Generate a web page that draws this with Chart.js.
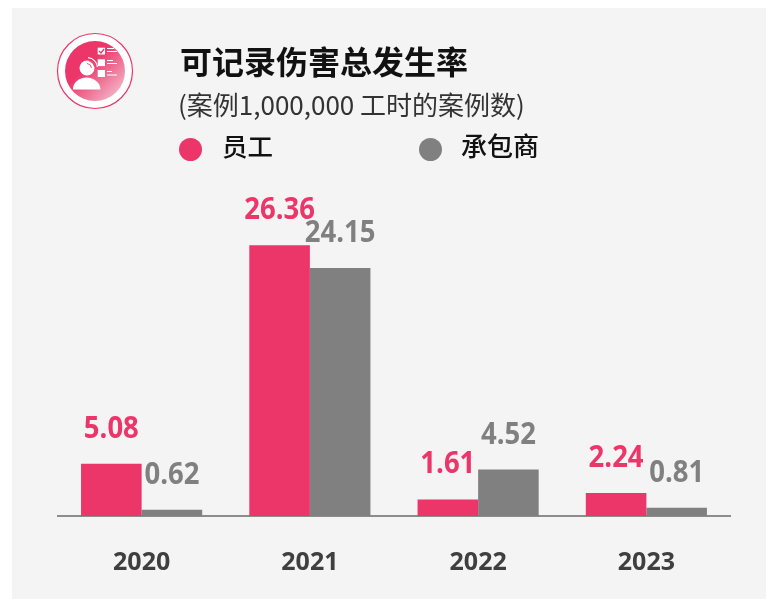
<!DOCTYPE html>
<html><head><meta charset="utf-8">
<script src="https://cdn.jsdelivr.net/npm/chart.js@4"></script>
<style>
html,body{margin:0;padding:0;background:#fff;width:766px;height:599px;overflow:hidden}
#panel{position:absolute;left:12px;top:8px;width:754px;height:591px;background:#f4f4f4}
#c{position:absolute;left:0;top:0}
.t{position:absolute;white-space:nowrap;font-family:"Noto Sans CJK SC","Noto Sans",sans-serif;color:#111}
.dot{position:absolute;border-radius:50%;width:23px;height:23px}
</style></head><body>
<div id="panel"></div>
<canvas id="c" width="766" height="599"></canvas>
<svg style="position:absolute;left:56px;top:32px" width="78" height="78" viewBox="0 0 78 78">
<defs><linearGradient id="g" x1="0.25" y1="0.25" x2="0.95" y2="0.95"><stop offset="0.2" stop-color="#ec3569"/><stop offset="1" stop-color="#f3c3d2"/></linearGradient></defs>
<circle cx="39" cy="39" r="37.5" fill="#fff" stroke="#ec3569" stroke-width="1.2"/>
<circle cx="39" cy="39" r="30" fill="url(#g)"/>
<g fill="#fff">
<path d="M17 57.5 C17 50 23 46 30.5 45.5 C38 46 44 50 44.5 57.5Z"/>
<circle cx="31" cy="36" r="7.5"/>
<path d="M32 25 a11 11 0 0 1 10 10 h-1.2 a9.5 9.5 0 0 0 -8.8 -8.8z"/>
<rect x="41.7" y="15.7" width="7.3" height="6.8"/><rect x="41.7" y="27.3" width="7.3" height="6.8"/><rect x="41.7" y="38" width="7.3" height="7"/>
<rect x="51" y="16" width="7" height="1"/><rect x="51" y="19" width="10" height="1"/>
<rect x="51" y="28" width="6" height="1"/><rect x="51" y="31" width="10" height="1"/>
<rect x="51" y="39" width="5" height="1"/><rect x="51" y="42.5" width="10" height="1"/>
</g>
<path d="M43 19 l2 2 l3 -4" fill="none" stroke="#ec3569" stroke-width="1.3"/>
<path d="M33 29 a7 7 0 0 1 5.5 5.5 M31 31.5 a5 5 0 0 1 4.5 4.5" fill="none" stroke="#ef5a84" stroke-width="1"/>
</svg>
<div class="t" style="left:180px;top:38px;font-size:32px;font-weight:700;line-height:44px">可记录伤害总发生率</div>
<div class="t" style="left:178px;top:87px;font-size:26px;font-weight:400;line-height:34px;color:#333">(案例1,000,000 工时的案例数)</div>
<div class="dot" style="left:179px;top:138px;background:#ec3569"></div>
<div class="t" style="left:222px;top:127px;font-size:25.5px;font-weight:500;line-height:36px">员工</div>
<div class="dot" style="left:419px;top:138px;background:#808080"></div>
<div class="t" style="left:461px;top:127px;font-size:26px;font-weight:500;line-height:36px">承包商</div>
<script>
const categories = ["2020","2021","2022","2023"];
const employees = [5.08,26.36,1.61,2.24];
const contractors = [0.62,24.15,4.52,0.81];
const seriesNames = ["员工","承包商"];
const PINK="#ec3569", GREY="#808080";
const labelPlugin = {
  id:"valueLabels",
  afterDatasetsDraw(chart){
    const ctx=chart.ctx;
    chart.data.datasets.forEach((ds,i)=>{
      chart.getDatasetMeta(i).data.forEach((el,j)=>{
        ctx.save();
        ctx.font='700 27.5px "Open Sans"';
        ctx.textAlign="center";
        ctx.textBaseline="alphabetic";
        ctx.fillStyle=ds.backgroundColor;
        ctx.translate(el.x,el.y-26);
        ctx.scale(1,1.12);
        ctx.fillText(ds.data[j].toFixed(2),0,0);
        ctx.restore();
      });
    });
  }
};
new Chart(document.getElementById("c"),{
  type:"bar",
  data:{labels:categories,datasets:[
    {label:seriesNames[0],data:employees,backgroundColor:PINK,borderWidth:0},
    {label:seriesNames[1],data:contractors,backgroundColor:GREY,borderWidth:0}
  ]},
  options:{
    responsive:false,animation:false,
    layout:{padding:{left:57.5,right:35.5,top:208,bottom:20}},
    plugins:{legend:{display:false},title:{display:false},tooltip:{enabled:false}},
    datasets:{bar:{categoryPercentage:0.72,barPercentage:1}},
    scales:{
      y:{display:false,min:0,max:30},
      x:{
        afterFit(s){s.height=63;},
        grid:{display:false,drawTicks:false},
        border:{color:"#8c8c8c",width:2},
        ticks:{color:"#3f3f3f",padding:32,maxRotation:0,font:{family:"Open Sans",size:25,weight:"700"}}
      }
    }
  },
  plugins:[labelPlugin]
});
</script>
</body></html>
